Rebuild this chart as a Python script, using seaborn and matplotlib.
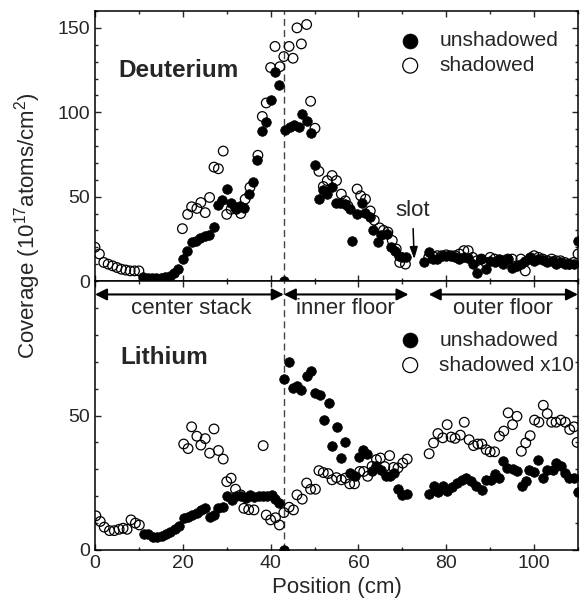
import numpy as np
import pandas as pd
import matplotlib
matplotlib.use("Agg")
import matplotlib.pyplot as plt
from matplotlib.ticker import MultipleLocator
import seaborn as sns

# ---------------- data ----------------
d_un_x = [11, 12, 13, 14, 15, 16, 17, 18, 19, 20, 21, 22, 23, 24, 25, 26, 27, 28, 29, 30,
          31, 32, 33, 34, 35, 36, 37, 38, 39, 40, 41, 42, 43, 43.2, 44.4, 45.3, 46.4, 47.2, 48.2, 49.1,
          50.2, 51.0, 52.0, 52.9, 54.0, 54.8, 55.9, 57.0, 58.0, 58.6, 59.7, 60.7, 61.6, 62.6, 63.3,
          64.4, 65.2, 66.4, 67.3, 68.4, 69.2, 70.0, 70.9,
          75, 76, 77, 78, 79, 80, 81, 82, 83, 84, 85, 86, 87, 88, 89, 90, 91, 92, 93, 94, 95,
          96, 97, 98, 99, 100, 101, 102, 103, 104, 105, 106, 107, 108, 109, 110]
d_un_y = [2.5, 2, 2, 2, 2, 2.5, 3, 4.5, 7, 13, 18, 23, 24, 25.5, 26.5, 27, 32, 45, 48, 54.5,
          46.5, 42.5, 44.5, 43.5, 51.5, 58.5, 71.5, 89, 94, 107, 124, 116, 0, 89.5, 91.5, 92.5, 91, 99, 95, 88,
          68.5, 48.5, 54, 51.5, 55.5, 46.5, 46.5, 45.5, 42.5, 24, 39.5, 46, 40.5, 38, 30,
          23, 27, 28, 20, 18, 15, 14.5, 14.5,
          11.5, 17, 13, 13, 15, 15, 15, 14, 13, 14, 13.5, 10, 5, 13, 7, 12, 11, 13, 10, 13, 8,
          9, 10, 12, 14, 12, 13, 12.5, 11, 12, 10, 11, 10, 10, 10, 24]

d_sh_x = [0, 1, 2, 3, 4, 5, 6, 7, 8, 9, 10,
          19.9, 21.1, 22.0, 23.2, 24.1, 25.1, 26.1, 27.1, 28.1, 29.2, 30.0, 31.0, 32.0, 33.2, 34.2,
          35.3, 37.1, 38.1, 39.0, 40.0, 41.0, 42.1, 43.0, 44.2, 45.1, 46.0, 47.0, 48.2, 49.1, 50.1,
          51.0, 52.0, 52.9, 54.0, 55.0, 56.1, 57.0, 57.6, 59.7, 60.5, 61.6, 62.7, 63.6, 64.8, 65.7,
          66.7, 67.7, 68.6, 69.4, 70.7,
          76, 77, 78, 79, 80, 81, 82, 83, 84, 85, 86, 87, 88, 89, 90, 91, 92, 93, 94, 95,
          96, 97, 98, 99, 100, 101, 102, 103, 104, 105, 106, 107, 108, 109, 110]
d_sh_y = [20, 16, 11, 10, 9, 8, 7, 6.5, 6, 6, 6,
          31, 39.5, 44, 43, 46.5, 40.5, 49.5, 67.5, 66.5, 77, 39.5, 42.5, 43.5, 40, 48.5,
          55.5, 74.5, 97.5, 105.5, 126.5, 139, 127, 133, 139, 132, 150, 140.5, 152, 106.5, 90.5,
          65, 56, 59.5, 62.5, 59.5, 51.5, 47.5, 44.5, 54.5, 50.5, 48.5, 41.5, 36, 31.5, 30,
          29, 24, 19, 11, 10,
          14, 14.5, 15, 15, 15.5, 15, 15, 16, 18, 18, 14, 12, 13, 11, 14, 13, 12, 12, 13, 13,
          9, 13, 6, 13, 15, 14, 13, 12, 13, 12, 12, 11, 10, 11, 16]

li_un_x = [11.2, 12.1, 13.1, 14.1, 15.2, 16.1, 17.1, 18.2, 19.2, 20.2, 21.1, 22.0, 23.2, 24.1,
           25.1, 26.1, 27.1, 28.1, 29.2, 30.0, 31.1, 32.0, 33.2, 34.3, 35.3, 36.2, 37.3, 38.3,
           39.2, 40.2, 41.1, 42.0, 43.0, 43.0, 44.2, 45.1, 46.0, 47.0, 48.2, 49.1, 50.1, 51.2,
           52.1, 53.2, 54.0, 55.0, 56.0, 57.0, 58.0, 59.1, 60.1, 61.0, 62.0, 63.1, 64.0, 65.2,
           66.2, 67.2, 68.2, 68.9, 69.9, 71.0,
           76.0, 77.1, 78.1, 79.2, 80.2, 81.3, 82.4, 83.6, 84.5, 85.6, 86.7, 88.1, 89.1, 90.2,
           91.1, 92.1, 92.9, 93.9, 95.1, 96.2, 97.2, 98.2, 98.9, 100.0, 101.0, 102.1, 103.0,
           104.2, 105.0, 106.1, 107.0, 108.0, 109.1, 109.9]
li_un_y = [6.0, 6.0, 5.0, 5.0, 5.2, 6.0, 6.8, 7.7, 9.0, 11.8, 12.4, 13.0, 13.8, 14.9,
           15.5, 12.2, 13.0, 15.5, 15.9, 20.1, 18.7, 19.9, 19.9, 19.3, 20.5, 19.7, 19.9, 19.9,
           19.9, 20.5, 18.9, 17.4, 0.0, 63.4, 69.9, 60.3, 60.9, 59.3, 64.7, 66.6, 58.5, 57.6,
           48.3, 54.5, 38.6, 45.8, 34.2, 40.2, 28.8, 27.4, 34.5, 37.3, 35.8, 29.2, 31.1, 29.9,
           27.4, 27.4, 28.6, 22.6, 20.5, 20.9,
           20.9, 23.9, 21.4, 23.9, 22.0, 23.5, 24.9, 26.1, 26.7, 25.5, 23.9, 22.4, 26.1, 26.1,
           28.4, 26.7, 32.9, 30.5, 30.0, 29.5, 23.9, 25.5, 29.6, 28.9, 33.6, 26.7, 29.6,
           29.8, 32.3, 31.3, 28.6, 26.7, 26.7, 21.4]

li_sh_x = [0.2, 1.2, 2.1, 3.3, 4.4, 5.5, 6.4, 7.3, 8.2, 9.2, 10.1,
           20.2, 21.2, 22.0, 23.2, 24.1, 25.1, 26.1, 27.1, 28.1, 29.2, 30.0, 31.0, 32.0, 33.2,
           33.9, 35.0, 36.2, 38.3, 39.0, 40.0, 41.1, 42.0, 43.0, 44.2, 45.2, 46.0, 47.2, 48.2,
           49.1, 50.2, 51.0, 52.0, 53.1, 54.0, 55.0, 56.1, 57.0, 58.0, 59.1, 60.3, 61.2, 62.1,
           63.1, 64.1, 65.0, 66.0, 67.1, 68.0, 69.0, 70.1, 71.1,
           76.1, 77.1, 78.1, 79.2, 80.2, 81.1, 82.0, 83.2, 84.1, 85.2, 86.2, 87.2, 88.1, 89.1,
           90.0, 91.0, 92.1, 93.1, 94.1, 95.1, 96.1, 97.1, 98.1, 99.1, 100.1, 101.1, 102.1,
           103.0, 104.0, 105.0, 106.1, 107.1, 108.1, 109.1, 109.8]
li_sh_y = [12.7, 10.6, 8.5, 7.2, 7.2, 7.7, 8.1, 7.7, 11.2, 10.0, 9.3,
           39.4, 37.7, 45.8, 42.3, 39.0, 41.4, 36.0, 45.0, 37.0, 33.8, 25.4, 26.7, 22.6, 20.5,
           15.5, 15.0, 14.9, 38.8, 13.0, 11.2, 12.0, 9.3, 13.9, 15.9, 14.9, 20.5, 18.9, 24.9,
           22.6, 22.6, 29.5, 28.8, 28.4, 26.1, 26.9, 26.1, 26.7, 24.6, 24.6, 29.2, 29.2, 27.4,
           31.1, 33.6, 34.2, 31.0, 35.1, 30.7, 30.5, 32.3, 33.8,
           35.8, 39.8, 43.3, 41.7, 46.6, 42.0, 41.5, 42.7, 47.5, 41.0, 38.8, 39.4, 39.4, 37.3,
           36.5, 36.5, 42.3, 44.2, 51.0, 46.6, 49.7, 36.7, 39.8, 42.5, 48.3, 47.5, 53.8,
           50.7, 47.5, 47.5, 48.3, 47.5, 44.8, 45.8, 40.0]

x_ticks = [0, 20, 40, 60, 80, 100]
d_yticks = [0, 50, 100, 150]
li_yticks = [0, 50]

# ---------------- style ----------------
sns.set_style("ticks")
plt.rcParams["font.family"] = ["Liberation Sans", "DejaVu Sans"]
plt.rcParams["mathtext.default"] = "regular"

fig = plt.figure(figsize=(5.87, 6.04), dpi=100)
L, W = 95 / 587, (578 - 95) / 587
mid = 1 - 281 / 604
ax1 = fig.add_axes([L, mid, W, (1 - 11 / 604) - mid])
ax2 = fig.add_axes([L, 1 - 550 / 604, W, mid - (1 - 550 / 604)])

MS = 48


def draw(ax, ux, uy, sx, sy, sh_label):
    sns.scatterplot(x=sx, y=sy, ax=ax, marker="o", s=MS, facecolor="none",
                    edgecolor="black", linewidth=0.9, label=sh_label, zorder=3)
    sns.scatterplot(x=ux, y=uy, ax=ax, marker="o", s=MS, color="black",
                    edgecolor="black", linewidth=0.5, label="unshadowed", zorder=4)
    ax.collections[0].set_facecolor("none")
    ax.axvline(43, color="#444444", lw=1.0, ls=(0, (5, 3)), zorder=2)
    ax.set_xlim(0, 110)
    ax.xaxis.set_major_locator(MultipleLocator(20))
    ax.xaxis.set_minor_locator(MultipleLocator(10))
    ax.yaxis.set_minor_locator(MultipleLocator(10))
    ax.tick_params(which="both", direction="in", top=True, right=True,
                   labelsize=14, width=1)
    ax.tick_params(which="major", length=4)
    ax.tick_params(which="minor", length=2.5)
    for sp in ax.spines.values():
        sp.set_linewidth(1.1)
        sp.set_color("black")
    h, l = ax.get_legend_handles_labels()
    return h, l


h1, l1 = draw(ax1, d_un_x, d_un_y, d_sh_x, d_sh_y, "shadowed")
ax1.set_ylim(0, 160)
ax1.set_yticks(d_yticks)
ax1.set_xticks(x_ticks)
ax1.set_xticklabels([])
ax1.set_xlabel("")
ax1.legend([h1[1], h1[0]], [l1[1], l1[0]], loc="upper left",
           bbox_to_anchor=(0.631, 0.925), frameon=False, fontsize=15,
           borderpad=0, borderaxespad=0, handlelength=1.0, handletextpad=0.9,
           labelspacing=0.28, markerscale=1.55)
ax1.text(5.4, 125, "Deuterium", fontsize=17.5, fontweight="bold",
         ha="left", va="center")
ax1.annotate("slot", xy=(72.7, 13), xytext=(72.3, 41.7), fontsize=16,
             ha="center", va="center",
             arrowprops=dict(arrowstyle="-|>,head_length=0.45,head_width=0.15",
                             color="black", lw=1.1, shrinkA=3, shrinkB=0))

h2, l2 = draw(ax2, li_un_x, li_un_y, li_sh_x, li_sh_y, "shadowed x10")
ax2.set_ylim(0, 100)
ax2.set_yticks(li_yticks)
ax2.set_xticks(x_ticks)
ax2.set_xlabel("Position (cm)", fontsize=16, labelpad=4)
ax2.legend([h2[1], h2[0]], [l2[1], l2[0]], loc="upper left",
           bbox_to_anchor=(0.631, 0.815), frameon=False, fontsize=15,
           borderpad=0, borderaxespad=0, handlelength=1.0, handletextpad=0.9,
           labelspacing=0.28, markerscale=1.55)
ax2.text(5.7, 71.6, "Lithium", fontsize=17.5, fontweight="bold",
         ha="left", va="center")

# region arrows
arrow_y = 95
for a, b in [(0, 43), (43, 71.4), (76, 110)]:
    ax2.annotate("", xy=(b, arrow_y), xytext=(a, arrow_y),
                 arrowprops=dict(arrowstyle="<|-|>,head_length=0.7,head_width=0.35",
                                 color="black", lw=1.5, mutation_scale=10,
                                 shrinkA=0, shrinkB=0), annotation_clip=False)
for xc, txt in [(21.9, "center stack"), (57, "inner floor"), (93, "outer floor")]:
    ax2.text(xc, 89.6, txt, fontsize=16, ha="center", va="center")

fig.text(28 / 587, 1 - 226 / 604, "Coverage (10$^{17}$atoms/cm$^{2}$)",
         rotation=90, fontsize=16, ha="center", va="center")

fig.savefig("out.png", dpi=100)
